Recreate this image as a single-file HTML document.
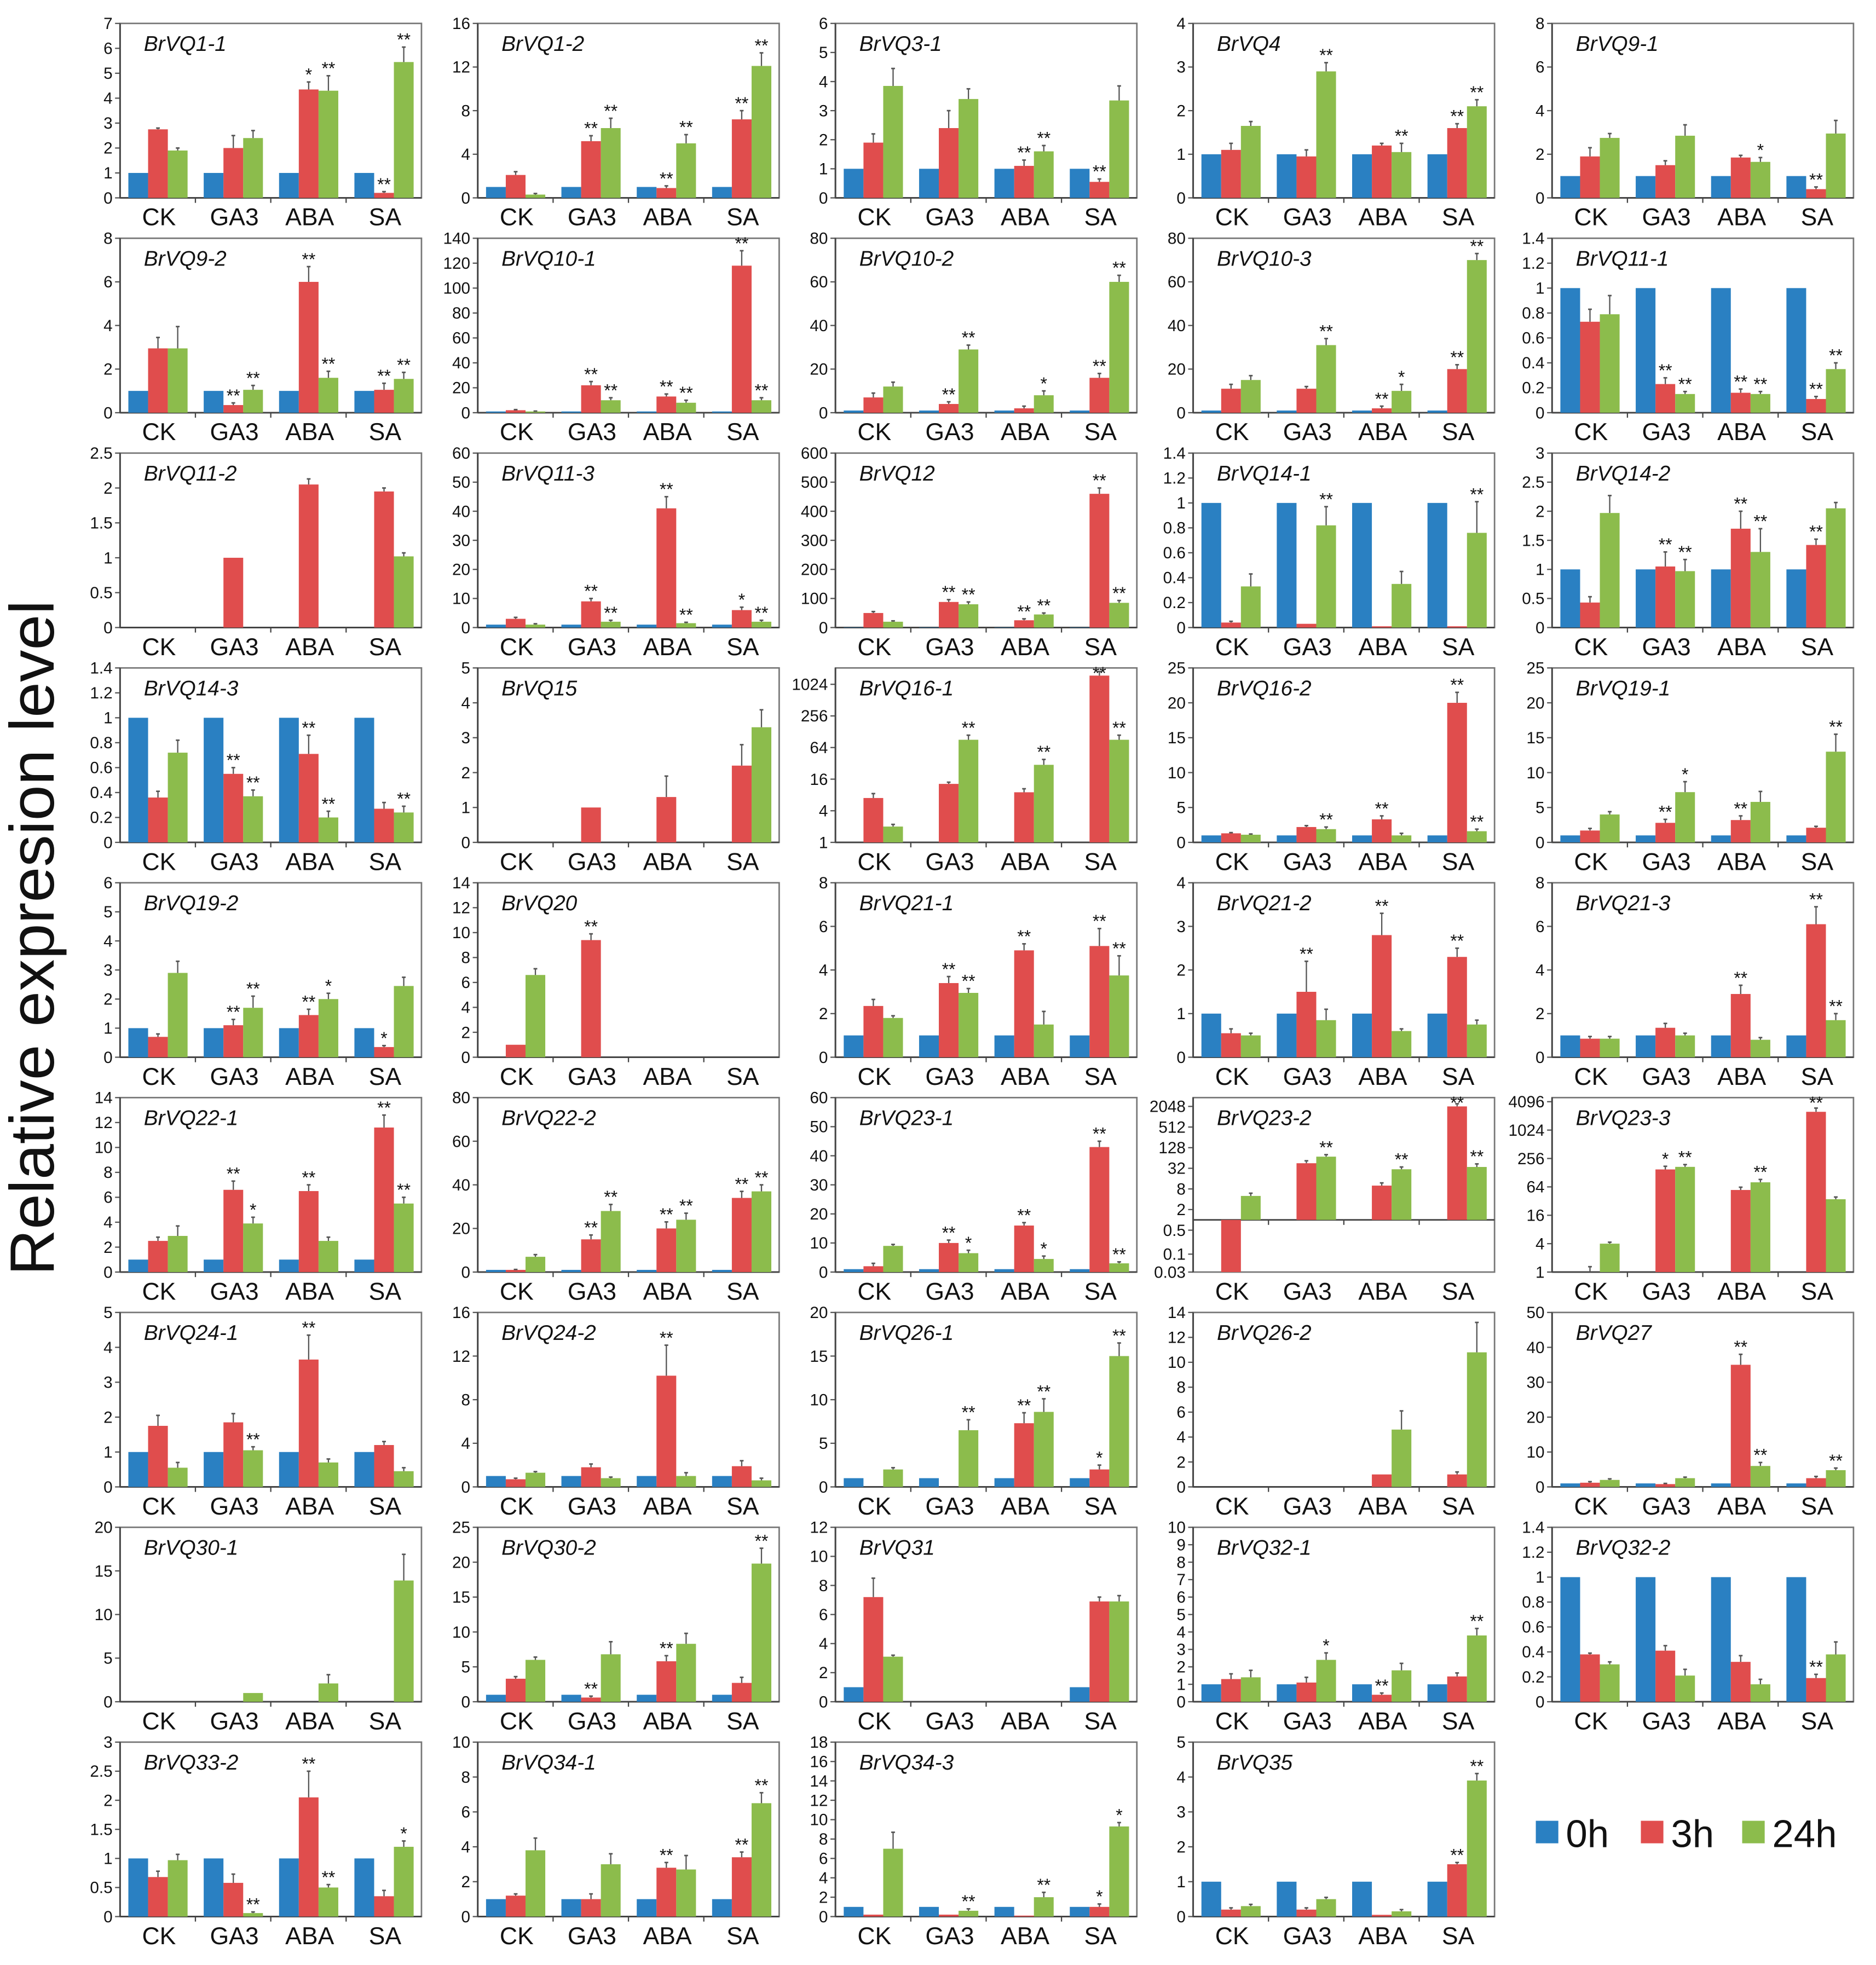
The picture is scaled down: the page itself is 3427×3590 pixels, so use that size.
<!DOCTYPE html>
<html><head><meta charset="utf-8"><style>
html,body{margin:0;padding:0;background:#fff;}
#fig{display:block;}
</style></head>
<body>
<svg id="fig" xmlns="http://www.w3.org/2000/svg" width="3427" height="3590" viewBox="0 0 1500 1571.3" font-family="Liberation Sans, Arial, sans-serif">
<rect x="0" y="0" width="1500" height="1571.3" fill="#fff"/>
<text transform="translate(43,750) rotate(-90)" text-anchor="middle" font-size="50" textLength="540" lengthAdjust="spacingAndGlyphs" fill="#111">Relative expresion level</text>
<g>
<rect x="1228" y="1456" width="18" height="18" fill="#2a80c2"/>
<text x="1252" y="1477" font-size="31" fill="#111">0h</text>
<rect x="1312" y="1456" width="18" height="18" fill="#e04d4d"/>
<text x="1336" y="1477" font-size="31" fill="#111">3h</text>
<rect x="1393" y="1456" width="18" height="18" fill="#8cbc4c"/>
<text x="1417" y="1477" font-size="31" fill="#111">24h</text>
</g>
<g id="panels"></g>
</svg>
<script>
const N = null;
const categories = ["CK","GA3","ABA","SA"];
const titles = ["BrVQ1-1","BrVQ1-2","BrVQ3-1","BrVQ4","BrVQ9-1",
"BrVQ9-2","BrVQ10-1","BrVQ10-2","BrVQ10-3","BrVQ11-1",
"BrVQ11-2","BrVQ11-3","BrVQ12","BrVQ14-1","BrVQ14-2",
"BrVQ14-3","BrVQ15","BrVQ16-1","BrVQ16-2","BrVQ19-1",
"BrVQ19-2","BrVQ20","BrVQ21-1","BrVQ21-2","BrVQ21-3",
"BrVQ22-1","BrVQ22-2","BrVQ23-1","BrVQ23-2","BrVQ23-3",
"BrVQ24-1","BrVQ24-2","BrVQ26-1","BrVQ26-2","BrVQ27",
"BrVQ30-1","BrVQ30-2","BrVQ31","BrVQ32-1","BrVQ32-2",
"BrVQ33-2","BrVQ34-1","BrVQ34-3","BrVQ35"];
const yTicks = [
[0,1,2,3,4,5,6,7],[0,4,8,12,16],[0,1,2,3,4,5,6],[0,1,2,3,4],[0,2,4,6,8],
[0,2,4,6,8],[0,10,20,30,40,50,60,70,80,90,100,110,120,130,140].filter((v,i)=>i%2===0),[0,20,40,60,80],[0,20,40,60,80],[0,0.2,0.4,0.6,0.8,1,1.2,1.4],
[0,0.5,1,1.5,2,2.5],[0,10,20,30,40,50,60],[0,100,200,300,400,500,600],[0,0.2,0.4,0.6,0.8,1,1.2,1.4],[0,0.5,1,1.5,2,2.5,3],
[0,0.2,0.4,0.6,0.8,1,1.2,1.4],[0,1,2,3,4,5],[1,4,16,64,256,1024],[0,5,10,15,20,25],[0,5,10,15,20,25],
[0,1,2,3,4,5,6],[0,2,4,6,8,10,12,14],[0,2,4,6,8],[0,1,2,3,4],[0,2,4,6,8],
[0,2,4,6,8,10,12,14],[0,20,40,60,80],[0,10,20,30,40,50,60],[0.03,0.1,0.5,2,8,32,128,512,2048],[1,4,16,64,256,1024,4096],
[0,1,2,3,4,5],[0,4,8,12,16],[0,5,10,15,20],[0,2,4,6,8,10,12,14],[0,10,20,30,40,50],
[0,5,10,15,20],[0,5,10,15,20,25],[0,2,4,6,8,10,12],[0,1,2,3,4,5,6,7,8,9,10],[0,0.2,0.4,0.6,0.8,1,1.2,1.4],
[0,0.5,1,1.5,2,2.5,3],[0,2,4,6,8,10],[0,2,4,6,8,10,12,14,16,18],[0,1,2,3,4,5]];
const logMin = {17:1, 28:0.03, 29:1};
const logMax = {17:2100, 28:3700, 29:5000};
const v0h = [
[1,1,1,1],[1,1,1,1],[1,1,1,1],[1,1,1,1],[1,1,1,1],
[1,1,1,1],[1,1,1,1],[1,1,1,1],[1,1,1,1],[1,1,1,1],
[N,N,N,N],[1,1,1,1],[1,1,1,1],[1,1,1,1],[1,1,1,1],
[1,1,1,1],[N,N,N,N],[1,1,1,1],[1,1,1,1],[1,1,1,1],
[1,1,1,1],[N,N,N,N],[1,1,1,1],[1,1,1,1],[1,1,1,1],
[1,1,1,1],[1,1,1,1],[1,1,1,1],[1,1,1,1],[1,1,1,1],
[1,1,1,1],[1,1,1,1],[1,1,1,1],[N,N,N,N],[1,1,1,1],
[N,N,N,N],[1,1,1,1],[1,N,N,1],[1,1,1,1],[1,1,1,1],
[1,1,1,1],[1,1,1,1],[1,1,1,1],[1,1,1,1]];
const v3h = [
[2.75,2.0,4.35,0.2],[2.1,5.2,0.9,7.2],[1.9,2.4,1.1,0.55],[1.1,0.95,1.2,1.6],[1.9,1.5,1.85,0.4],
[2.95,0.35,6.0,1.05],[2,22,13,118],[7,4,2,16],[11,11,2,20],[0.73,0.23,0.16,0.11],
[N,1,2.05,1.95],[3,9,41,6],[50,88,25,460],[0.04,0.03,0.01,0.01],[0.43,1.05,1.7,1.42],
[0.36,0.55,0.71,0.27],[N,1,1.3,2.2],[7,13,9,1500],[1.3,2.2,3.3,20],[1.7,2.8,3.2,2.1],
[0.7,1.1,1.45,0.35],[1,9.4,N,N],[2.35,3.4,4.9,5.1],[0.55,1.5,2.8,2.3],[0.85,1.35,2.9,6.1],
[2.5,6.6,6.5,11.6],[1,15,20,34],[2,10,16,43],[0.03,45,10,2048],[1,150,55,2500],
[1.75,1.85,3.65,1.2],[0.7,1.8,10.2,1.9],[N,N,7.3,2.0],[N,N,1,1],[1.2,0.8,35,2.5],
[N,N,N,N],[3.3,0.6,5.8,2.7],[7.2,N,N,6.9],[1.3,1.1,0.4,1.45],[0.38,0.41,0.32,0.19],
[0.68,0.58,2.05,0.35],[1.2,1.0,2.8,3.4],[0.2,0.2,0.1,1.0],[0.2,0.2,0.05,1.5]];
const v24h = [
[1.9,2.4,4.3,5.45],[0.3,6.4,5.0,12.1],[3.85,3.4,1.6,3.35],[1.65,2.9,1.05,2.1],[2.75,2.85,1.65,2.95],
[2.95,1.05,1.6,1.55],[1,10,8,10],[12,29,8,60],[15,31,10,70],[0.79,0.15,0.15,0.35],
[N,N,N,1.02],[1,2,1.5,2],[20,80,45,85],[0.33,0.82,0.35,0.76],[1.97,0.97,1.3,2.05],
[0.72,0.37,0.2,0.24],[N,N,N,3.3],[2,90,30,90],[1.1,1.9,1.0,1.6],[4.0,7.2,5.8,13],
[2.9,1.7,2.0,2.45],[6.6,N,N,N],[1.8,2.95,1.5,3.75],[0.5,0.85,0.6,0.75],[0.85,1.0,0.8,1.7],
[2.9,3.9,2.5,5.5],[7,28,24,37],[9,6.5,4.5,3],[5,70,30,35],[4,170,80,35],
[0.55,1.05,0.7,0.45],[1.3,0.8,1.0,0.6],[2.0,6.5,8.6,15],[N,N,4.6,10.8],[2.0,2.5,6,4.8],
[N,1,2.1,13.9],[6.0,6.8,8.3,19.8],[3.1,N,N,6.9],[1.4,2.4,1.8,3.8],[0.3,0.21,0.14,0.38],
[0.97,0.06,0.5,1.2],[3.8,3.0,2.7,6.5],[7.0,0.6,2.0,9.3],[0.3,0.5,0.15,3.9]];
const e3h = [
[0.05,0.5,0.3,0.05],[0.3,0.5,0.2,0.8],[0.3,0.6,0.2,0.1],[0.15,0.15,0.05,0.1],[0.4,0.2,0.1,0.1],
[0.5,0.1,0.7,0.3],[0.5,3,2,12],[2,1,1,2],[2,1,1,2],[0.1,0.05,0.03,0.02],
[0,0,0.08,0.05],[0.5,1,4,1],[5,8,5,20],[0.01,0,0,0],[0.1,0.25,0.3,0.1],
[0.05,0.05,0.15,0.05],[0,0,0.6,0.6],[1.5,1,1.5,300],[0.1,0.2,0.5,1.5],[0.3,0.5,0.6,0.2],
[0.1,0.2,0.2,0.05],[0,0.5,0,0],[0.3,0.3,0.3,0.8],[0.1,0.7,0.5,0.2],[0.1,0.2,0.4,0.8],
[0.3,0.7,0.5,1.0],[0.2,2,3,3],[1,1,1,2],[0,8,2,400],[0.3,25,8,500],
[0.3,0.25,0.7,0.1],[0.1,0.3,2.8,0.5],[0,0,1.2,0.5],[0,0,0,0.2],[0.3,0.2,3,0.5],
[0,0,0,0],[0.3,0.2,0.8,0.8],[1.3,0,0,0.3],[0.3,0.3,0.1,0.2],[0.01,0.04,0.05,0.03],
[0.1,0.15,0.45,0.1],[0.1,0.3,0.3,0.3],[0,0,0,0.3],[0.05,0.05,0,0.05]];
const e24h = [
[0.1,0.3,0.6,0.6],[0.1,0.9,0.8,1.2],[0.6,0.35,0.2,0.5],[0.1,0.2,0.2,0.15],[0.2,0.5,0.2,0.6],
[1.0,0.2,0.3,0.3],[0.3,2,2,2],[2,2,2,3],[2,3,3,3],[0.15,0.02,0.02,0.05],
[0,0,0,0.05],[0.3,0.5,0.3,0.5],[3,8,5,8],[0.1,0.15,0.1,0.25],[0.3,0.2,0.4,0.1],
[0.1,0.05,0.05,0.05],[0,0,0,0.5],[0.2,20,8,20],[0.1,0.3,0.3,0.3],[0.4,1.5,1.5,2.5],
[0.4,0.4,0.2,0.3],[0.5,0,0,0],[0.1,0.2,0.6,0.9],[0.05,0.25,0.05,0.1],[0.1,0.1,0.1,0.3],
[0.8,0.5,0.3,0.5],[1,3,3,3],[0.5,1,1,0.5],[1,10,5,8],[0.3,20,12,4],
[0.15,0.1,0.1,0.1],[0.1,0.1,0.3,0.2],[0.2,1.2,1.5,1.5],[0,0,1.5,2.4],[0.3,0.3,1,0.6],
[0,0,1,3],[0.4,1.8,1.5,2.2],[0.1,0,0,0.4],[0.4,0.4,0.4,0.4],[0.02,0.05,0.04,0.1],
[0.1,0.02,0.05,0.1],[0.7,0.6,0.8,0.6],[1.7,0.2,0.5,0.4],[0.05,0.05,0.05,0.2]];
const s3h = [
["","","*","**"],["","**","**","**"],["","","**","**"],["","","","**"],["","","","**"],
["","**","**","**"],["","**","**","**"],["","**","","**"],["","","**","**"],["","**","**","**"],
["","","",""],["","**","**","*"],["","**","**","**"],["","","",""],["","**","**","**"],
["","**","**",""],["","","",""],["","","","**"],["","","**","**"],["","**","**",""],
["","**","**","*"],["","**","",""],["","**","**","**"],["","**","**","**"],["","","**","**"],
["","**","**","**"],["","**","**","**"],["","**","**","**"],["","","","**"],["","*","","**"],
["","","**",""],["","","**",""],["","","**","*"],["","","",""],["","","**",""],
["","","",""],["","**","**",""],["","","",""],["","","**",""],["","","","**"],
["","","**",""],["","","**","**"],["","","","*"],["","","","**"]];
const s24h = [
["","","**","**"],["","**","**","**"],["","","**",""],["","**","**","**"],["","","*",""],
["","**","**","**"],["","**","**","**"],["","**","*","**"],["","**","*","**"],["","**","**","**"],
["","","",""],["","**","**","**"],["","**","**","**"],["","**","","**"],["","**","**",""],
["","**","**","**"],["","","",""],["","**","**","**"],["","**","","**"],["","*","","**"],
["","**","*",""],["","","",""],["","**","","**"],["","","",""],["","","","**"],
["","*","","**"],["","**","**","**"],["","*","*","**"],["","**","**","**"],["","**","**",""],
["","**","",""],["","","",""],["","**","**","**"],["","","",""],["","","**","**"],
["","","",""],["","","","**"],["","","",""],["","*","","**"],["","","",""],
["","**","**","*"],["","","","**"],["","**","**","*"],["","","","**"]];

const colX = [96,382,668,954,1241];
const colW = 241;
const rowTop = 18.7, rowPitch = 171.8, plotH = 139.5;
const colors = ["#2a80c2","#e04d4d","#8cbc4c"];
const NS = "http://www.w3.org/2000/svg";
const root = document.getElementById("panels");
function mk(tag, attrs, parent){ const e=document.createElementNS(NS,tag); for(const k in attrs) e.setAttribute(k,attrs[k]); parent.appendChild(e); return e; }

titles.forEach((title, p) => {
  const col = p % 5, row = Math.floor(p / 5);
  const L = colX[col], T = rowTop + row * rowPitch, W = colW, H = plotH, B = T + H;
  const ticks = yTicks[p];
  const isLog = logMin[p] !== undefined;
  const lo = isLog ? logMin[p] : 0;
  const hi = isLog ? logMax[p] : ticks[ticks.length - 1];
  const yS = v => isLog ? B - (Math.log(Math.max(v,1e-9)) - Math.log(lo)) / (Math.log(hi) - Math.log(lo)) * H
                        : B - (v - lo) / (hi - lo) * H;
  const base = isLog ? yS(1) : B;
  const g = mk("g", {}, root);
  
  
  const frame = mk("rect", {x:L, y:T, width:W, height:H, fill:"none", stroke:"#777", "stroke-width":1.2}, g);
  
  
  // y ticks
  ticks.forEach(t => {
    const y = yS(t);
    const tl = mk("line", {x1:L-4, x2:L, y1:y, y2:y, stroke:"#555", "stroke-width":1}, g);
    
    
    const tx = mk("text", {x:L-6, y:y+4.5, "text-anchor":"end", "font-size":13, fill:"#111"}, g);
    
    
    tx.textContent = String(t);
  });
  // baseline
  const bl = mk("line", {x1:L, x2:L+W, y1:base, y2:base, stroke:"#444", "stroke-width":1.3}, g);
  
  
  const ax = mk("line", {x1:L, x2:L, y1:T, y2:B, stroke:"#444", "stroke-width":1.3}, g);
  
  
  const gw = W / 4, bw = gw * 0.262, off = gw * 0.11;
  const series = [v0h[p], v3h[p], v24h[p]];
  const errs = [null, e3h[p], e24h[p]];
  const stars = [null, s3h[p], s24h[p]];
  categories.forEach((c, i) => {
    const gx = L + i * gw;
    if (i > 0) {
      const xt = mk("line", {x1:gx, x2:gx, y1:base, y2:base+4, stroke:"#444", "stroke-width":1}, g);
      
      
    }
    const lab = mk("text", {x:gx + gw/2 + 1, y:B + 22, "text-anchor":"middle", "font-size":19.5, fill:"#111"}, g);
    
    
    lab.textContent = c;
    series.forEach((s, k) => {
      const v = s[i];
      if (v === null) return;
      const x = gx + off + k * bw;
      const yv = yS(v);
      const top = Math.min(yv, base), h = Math.abs(base - yv);
      const r = mk("rect", {x:x, y:top, width:bw, height:Math.max(h,0), fill:colors[k]}, g);
      
      
      let ytop = top;
      if (errs[k] && errs[k][i] > 0 && yv <= base) {
        const ye = yS(v + errs[k][i]);
        const cx = x + bw/2;
        const el = mk("line", {x1:cx, x2:cx, y1:yv, y2:ye, stroke:"#555", "stroke-width":1}, g);
        
        
        const ec = mk("line", {x1:cx-1.5, x2:cx+1.5, y1:ye, y2:ye, stroke:"#555", "stroke-width":1.2}, g);
        
        
        ytop = ye;
      }
      if (stars[k] && stars[k][i]) {
        const st = mk("text", {x:x + bw/2, y:Math.max(ytop - 1, T + 9), "text-anchor":"middle", "font-size":14, fill:"#111"}, g);
        
        
        st.textContent = stars[k][i];
      }
    });
  });
  const tt = mk("text", {x:L + 19, y:T + 22, "font-size":17, "font-style":"italic", fill:"#111"}, g);
  
  
  tt.textContent = title;
});
</script>
</body></html>
